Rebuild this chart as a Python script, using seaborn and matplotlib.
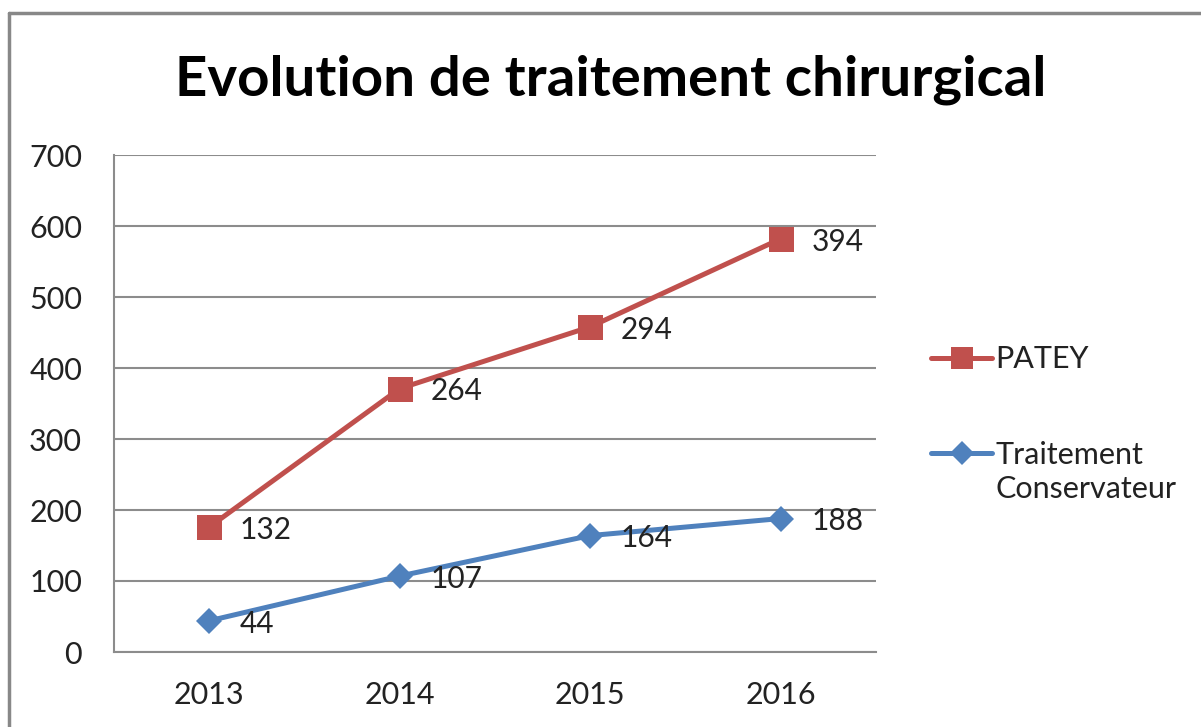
import matplotlib
matplotlib.use("Agg")
import matplotlib.pyplot as plt
from matplotlib.lines import Line2D
import numpy as np
import pandas as pd
import seaborn as sns

# Yearly counts for each surgical treatment
years = ["2013", "2014", "2015", "2016"]
conservateur = [44, 107, 164, 188]
patey = [132, 264, 294, 394]
y_ticks = [0, 100, 200, 300, 400, 500, 600, 700]

red = "#C0504D"
blue = "#4F81BD"
grid_gray = "#8C8C8C"
text_color = "#222222"

sns.set_theme(style="white")
plt.rcParams["font.family"] = ["Lato", "DejaVu Sans"]

# Stacked line chart: PATEY sits on top of the conservative treatment
stack_base = np.array(conservateur)
stack_top = stack_base + np.array(patey)
df = pd.DataFrame({
    "year": years * 2,
    "value": list(stack_base) + list(stack_top),
    "label": conservateur + patey,
    "series": ["Traitement Conservateur"] * 4 + ["PATEY"] * 4,
})

fig = plt.figure(figsize=(12.01, 7.27), dpi=100)
ax = fig.add_axes([114 / 1201, 1 - 652 / 727, (876 - 114) / 1201, (652 - 155) / 727])

series_style = {
    "Traitement Conservateur": dict(color=blue, marker="D", ms=13),
    "PATEY": dict(color=red, marker="s", ms=18),
}
for name in ["Traitement Conservateur", "PATEY"]:
    sub = df[df["series"] == name]
    st = series_style[name]
    sns.lineplot(data=sub, x="year", y="value", ax=ax, color=st["color"],
                 marker=st["marker"], markersize=st["ms"], markeredgewidth=0,
                 linewidth=3.6, sort=False, legend=False)
    for xi, (v, lab) in enumerate(zip(sub["value"], sub["label"])):
        ax.annotate(str(lab), (xi, v), xytext=(22, -2), textcoords="offset points",
                    ha="left", va="center", fontsize=21.5, color=text_color)

ax.set_xlim(-0.5, 3.5)
ax.set_ylim(0, 700)
ax.set_yticks(y_ticks)
ax.set_yticklabels([str(t) for t in y_ticks], fontsize=22, color=text_color)
ax.set_xticks(range(len(years)))
ax.set_xticklabels(years, fontsize=22, color=text_color)
ax.tick_params(axis="y", length=0, pad=23)
ax.tick_params(axis="x", length=0, pad=21)
ax.set_xlabel("")
ax.set_ylabel("")
ax.grid(axis="y", color=grid_gray, linewidth=1.5)
ax.set_axisbelow(True)
for side in ["top", "right"]:
    ax.spines[side].set_visible(False)
for side in ["left", "bottom"]:
    ax.spines[side].set_color(grid_gray)
    ax.spines[side].set_linewidth(1.5)

fig.text(611 / 1201, 1 - 80 / 727, "Evolution de traitement chirurgical",
         ha="center", va="center", fontsize=40.6, fontweight="bold", color="black")

# Legend
handles = [
    Line2D([], [], color=red, marker="s", ms=16, markeredgewidth=0, linewidth=3.6),
    Line2D([], [], color=blue, marker="D", ms=12, markeredgewidth=0, linewidth=3.6),
]
leg = fig.legend(handles, ["PATEY", "Traitement"], loc="upper left",
                 bbox_to_anchor=(916 / 1201, 1 - 330 / 727), frameon=False,
                 fontsize=22, labelspacing=2.2, handlelength=2.0, handletextpad=0.1,
                 borderpad=0, labelcolor=text_color)
fig.canvas.draw()
tb = leg.get_texts()[1].get_window_extent()
fig.text(tb.x0 / 1201, (tb.y0 - 6) / 727, "Conservateur", ha="left", va="top",
         fontsize=22, color=text_color)

# Outer frame (top and left edges)
fig.add_artist(Line2D([9 / 1201, 9 / 1201], [0, 1 - 13 / 727], transform=fig.transFigure,
                      color="#888888", linewidth=2.5))
fig.add_artist(Line2D([9 / 1201, 1], [1 - 13 / 727, 1 - 13 / 727], transform=fig.transFigure,
                      color="#888888", linewidth=2.5))

fig.savefig("out.png", dpi=100)
